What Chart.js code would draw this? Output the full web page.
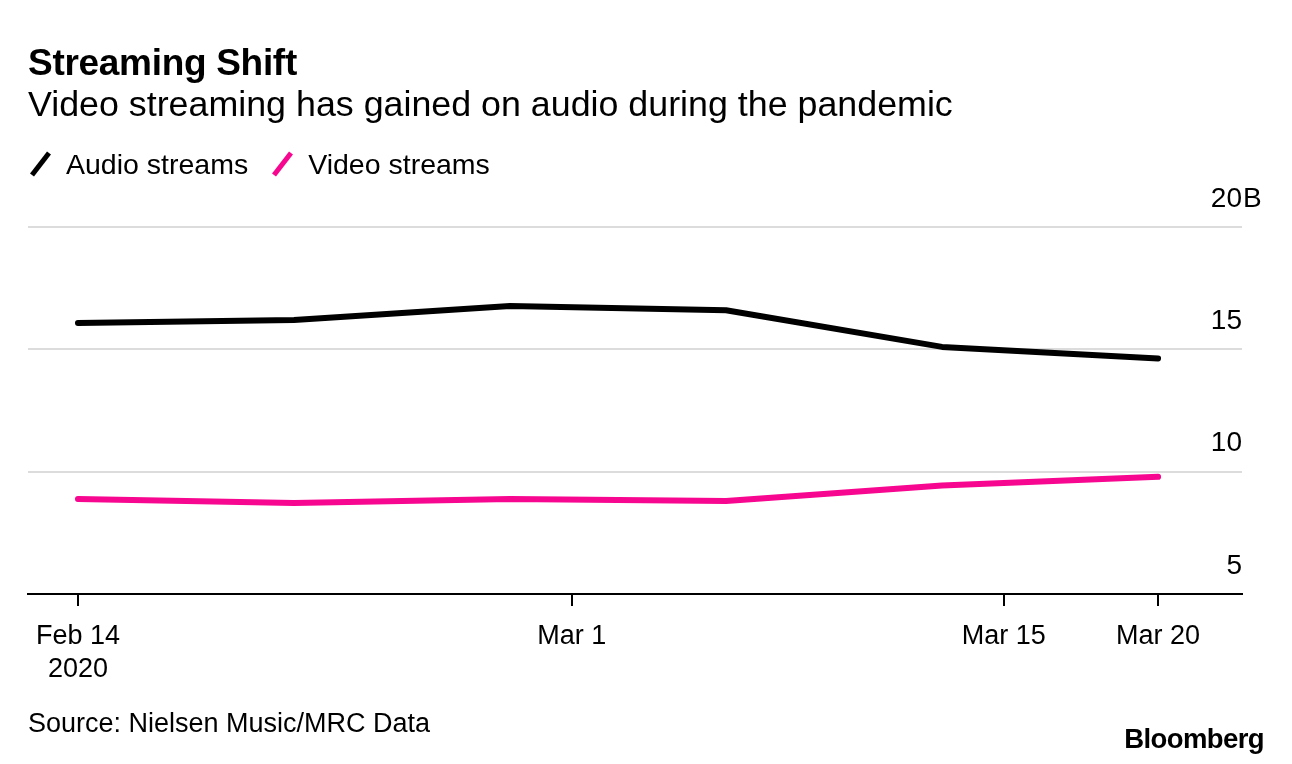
<!DOCTYPE html>
<html>
<head>
<meta charset="utf-8">
<script src="https://cdn.jsdelivr.net/npm/chart.js@4.4.1/dist/chart.umd.min.js"></script>
<style>
  html, body { margin: 0; padding: 0; background: #ffffff; }
  body { width: 1292px; height: 764px; position: relative; overflow: hidden; font-family: "Liberation Sans", Arial, sans-serif; color: #000; }
  .txt { position: absolute; white-space: nowrap; line-height: 1; }
  #title { left: 28px; top: 44px; font-size: 37px; font-weight: bold; letter-spacing: -0.3px; }
  #subtitle { left: 28px; top: 87px; font-size: 35.8px; }
  #legend { left: 28px; top: 150px; font-size: 28.5px; display: flex; align-items: center; }
  .item { display: flex; align-items: center; margin-right: 22px; }
  .mark { width: 26px; height: 28px; margin-right: 12px; }
  #source { left: 28px; top: 710px; font-size: 27px; }
  #logo { right: 28px; top: 725px; font-size: 27.5px; font-weight: bold; letter-spacing: -0.6px; }
  #wrap { position: absolute; left: 0; top: 0; width: 1292px; height: 764px; }
</style>
</head>
<body>
<div id="wrap"><canvas id="c"></canvas></div>
<div class="txt" id="title">Streaming Shift</div>
<div class="txt" id="subtitle">Video streaming has gained on audio during the pandemic</div>
<div class="txt" id="legend"></div>
<div class="txt" id="source">Source: Nielsen Music/MRC Data</div>
<div class="txt" id="logo">Bloomberg</div>
<script>
// ---- data ----
const dates = ['2020-02-14', '2020-02-21', '2020-02-28', '2020-03-06', '2020-03-13', '2020-03-20'];
const audioStreams = [16.08, 16.2, 16.77, 16.6, 15.1, 14.63];
const videoStreams = [8.88, 8.72, 8.88, 8.8, 9.43, 9.79];
const seriesNames = ['Audio streams', 'Video streams'];
const seriesColors = ['#000000', '#f7068f'];
const xTickDates = ['2020-02-14', '2020-03-01', '2020-03-15', '2020-03-20'];
const xTickLabels = [['Feb 14', '2020'], 'Mar 1', 'Mar 15', 'Mar 20'];
const yTickValues = [5, 10, 15, 20];
const yUnit = 'B';

const DAY = 86400000;
const t0 = Date.parse(dates[0] + 'T00:00:00Z');
const dayOf = d => (Date.parse(d + 'T00:00:00Z') - t0) / DAY;
const xDays = dates.map(dayOf);
const xTickDays = xTickDates.map(dayOf);

// legend
const legend = document.getElementById('legend');
seriesNames.forEach((n, i) => {
  const it = document.createElement('div');
  it.className = 'item';
  it.innerHTML = '<svg class="mark" viewBox="0 0 26 28"><line x1="4" y1="25" x2="21" y2="3" stroke="' + seriesColors[i] + '" stroke-width="5" stroke-linecap="butt"/></svg><span>' + n + '</span>';
  legend.appendChild(it);
});

const Y_FONT = 28;
const unitPlugin = {
  id: 'unitPlugin',
  afterDraw(chart) {
    const y = chart.scales.y;
    const ctx = chart.ctx;
    const top = yTickValues[yTickValues.length - 1];
    ctx.save();
    ctx.font = Y_FONT + 'px "Liberation Sans", Arial, sans-serif';
    ctx.fillStyle = '#000';
    ctx.textAlign = 'left';
    ctx.textBaseline = 'middle';
    ctx.fillText(yUnit, chart.chartArea.right + 1, y.getPixelForValue(top) - 28);
    ctx.restore();
  }
};

new Chart(document.getElementById('c'), {
  type: 'line',
  data: {
    datasets: [
      { label: seriesNames[0], data: xDays.map((x, i) => ({ x, y: audioStreams[i] })), borderColor: seriesColors[0] },
      { label: seriesNames[1], data: xDays.map((x, i) => ({ x, y: videoStreams[i] })), borderColor: seriesColors[1] }
    ]
  },
  options: {
    responsive: true,
    maintainAspectRatio: false,
    animation: false,
    events: [],
    layout: { padding: { left: 28, right: 50, top: 227, bottom: 70 } },
    elements: {
      line: { borderWidth: 6, tension: 0, borderCapStyle: 'round', borderJoinStyle: 'round' },
      point: { radius: 0 }
    },
    plugins: { legend: { display: false }, tooltip: { enabled: false } },
    scales: {
      x: {
        type: 'linear',
        min: -1.62,
        max: 37.72,
        afterBuildTicks: s => { s.ticks = xTickDays.map(v => ({ value: v })); },
        afterFit: s => { s.height = 100; },
        ticks: {
          autoSkip: false,
          maxRotation: 0,
          color: '#000',
          padding: 14,
          font: { family: '"Liberation Sans", Arial, sans-serif', size: 27, lineHeight: 1.22 },
          callback: (v) => { const i = xTickDays.indexOf(v); return i >= 0 ? xTickLabels[i] : ''; }
        },
        grid: { drawOnChartArea: false, drawTicks: true, tickLength: 12, color: '#000', lineWidth: 2 },
        border: { display: true, color: '#000', width: 2 }
      },
      y: {
        position: 'right',
        min: yTickValues[0],
        max: yTickValues[yTickValues.length - 1],
        afterBuildTicks: s => { s.ticks = yTickValues.map(v => ({ value: v })); },
        afterFit: s => { s.width = 0; },
        ticks: {
          mirror: true,
          padding: 0,
          labelOffset: -28,
          color: '#000',
          font: { family: '"Liberation Sans", Arial, sans-serif', size: Y_FONT },
          callback: v => String(v)
        },
        grid: {
          drawTicks: false,
          color: ctx => ctx.tick && ctx.tick.value === yTickValues[0] ? 'rgba(0,0,0,0)' : '#dcdcdc',
          lineWidth: 2
        },
        border: { display: false }
      }
    }
  },
  plugins: [unitPlugin]
});
</script>
</body>
</html>
